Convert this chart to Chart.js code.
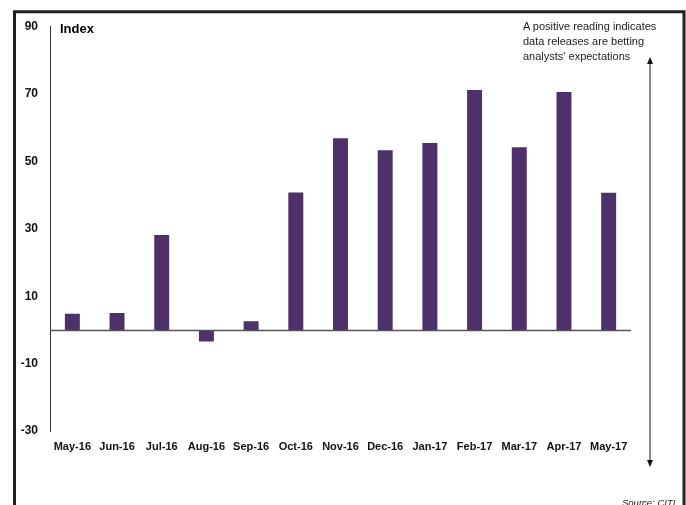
<!DOCTYPE html>
<html>
<head>
<meta charset="utf-8">
<script src="https://cdn.jsdelivr.net/npm/chart.js@4"></script>
<style>
  html, body { margin: 0; padding: 0; background: #fff; }
  #wrap { position: relative; width: 686px; height: 505px; overflow: hidden; font-family: "Liberation Sans", Arial, sans-serif; }
  #c { position: absolute; left: 0; top: 0; }
  .lbl { position: absolute; white-space: nowrap; color: #000; }
  #index { left: 60px; top: 21px; font-size: 13px; font-weight: bold; }
  #note { left: 523px; top: 19px; font-size: 11px; line-height: 15px; color: #222; }
  #src { left: 622px; top: 497px; font-size: 9.5px; font-style: italic; color: #222; }
</style>
</head>
<body>
<div id="wrap">
  <canvas id="c" width="686" height="505"></canvas>
  <div class="lbl" id="index">Index</div>
  <div class="lbl" id="note">A positive reading indicates<br>data releases are betting<br>analysts' expectations</div>
  <div class="lbl" id="src">Source: CITI</div>
</div>
<script>
const categories = ["May-16","Jun-16","Jul-16","Aug-16","Sep-16","Oct-16","Nov-16","Dec-16","Jan-17","Feb-17","Mar-17","Apr-17","May-17"];
const indexValues = [4.8, 5.0, 28.2, -3.4, 2.6, 40.8, 56.9, 53.3, 55.5, 71.2, 54.2, 70.6, 40.7];
const yTicks = [-30, -10, 10, 30, 50, 70, 90];

const decor = {
  id: 'decor',
  beforeDraw(chart) {
    const ctx = chart.ctx;
    ctx.save();
    ctx.strokeStyle = '#222';
    ctx.lineWidth = 3;
    ctx.beginPath();
    ctx.moveTo(14.5, 520);
    ctx.lineTo(14.5, 11.8);
    ctx.lineTo(684, 11.8);
    ctx.lineTo(684, 520);
    ctx.stroke();
    ctx.restore();
  },
  afterDatasetsDraw(chart) {
    const ctx = chart.ctx;
    const y = chart.scales.y;
    const area = chart.chartArea;
    const y0 = Math.round(y.getPixelForValue(0)) + 0.5;
    ctx.save();
    ctx.strokeStyle = '#555';
    ctx.lineWidth = 1.3;
    ctx.beginPath();
    ctx.moveTo(area.left, y0);
    ctx.lineTo(area.right, y0);
    ctx.stroke();
    ctx.restore();
  },
  afterDraw(chart) {
    const ctx = chart.ctx;
    ctx.save();
    const x = 650, y1 = 57, y2 = 467;
    ctx.strokeStyle = '#111';
    ctx.fillStyle = '#111';
    ctx.lineWidth = 1;
    ctx.beginPath();
    ctx.moveTo(x, y1 + 5);
    ctx.lineTo(x, y2 - 5);
    ctx.stroke();
    ctx.beginPath();
    ctx.moveTo(x, y1); ctx.lineTo(x - 3, y1 + 7); ctx.lineTo(x + 3, y1 + 7); ctx.closePath(); ctx.fill();
    ctx.beginPath();
    ctx.moveTo(x, y2); ctx.lineTo(x - 3, y2 - 7); ctx.lineTo(x + 3, y2 - 7); ctx.closePath(); ctx.fill();
    ctx.restore();
  }
};

new Chart(document.getElementById('c'), {
  type: 'bar',
  data: {
    labels: categories,
    datasets: [{
      data: indexValues,
      backgroundColor: '#4E306A',
      borderWidth: 0,
      categoryPercentage: 1,
      barPercentage: 0.335
    }]
  },
  options: {
    responsive: false,
    animation: false,
    devicePixelRatio: 1,
    layout: { padding: { left: 0, right: 55, top: 26.7, bottom: 0 } },
    plugins: { legend: { display: false }, tooltip: { enabled: false } },
    scales: {
      x: {
        grid: { display: false, drawTicks: false },
        border: { display: false },
        ticks: {
          color: '#111',
          font: { family: 'Liberation Sans', size: 11, weight: 'bold' },
          padding: 9,
          maxRotation: 0,
          autoSkip: false
        },
        afterFit(scale) { scale.height = 74; }
      },
      y: {
        min: -30,
        max: 90,
        afterBuildTicks(scale) { scale.ticks = yTicks.map(v => ({ value: v })); },
        grid: { display: false, drawTicks: false },
        border: { display: true, color: '#333', width: 1 },
        ticks: {
          color: '#111',
          font: { family: 'Liberation Sans', size: 12, weight: 'bold' },
          padding: 12
        },
        afterFit(scale) { scale.width = 50; }
      }
    }
  },
  plugins: [decor]
});
</script>
</body>
</html>
